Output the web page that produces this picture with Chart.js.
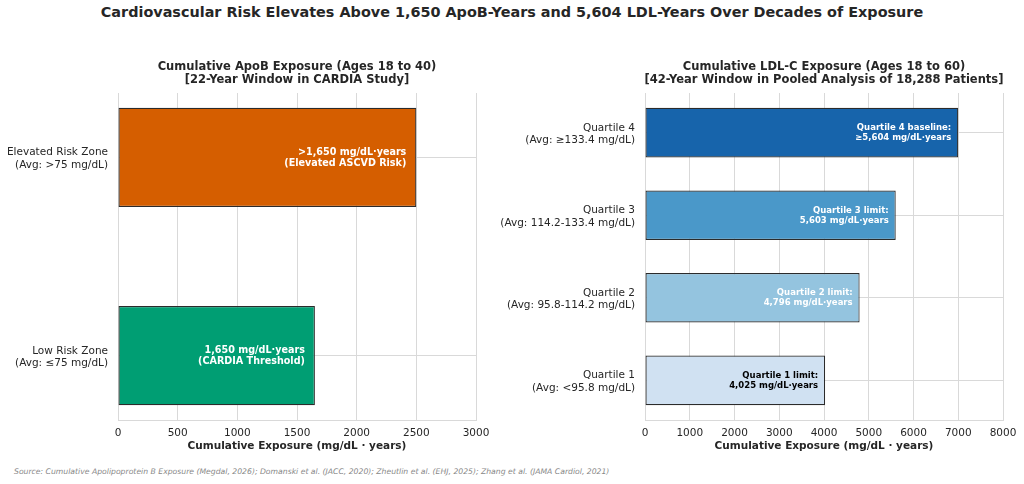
<!DOCTYPE html>
<html lang="en">
<head>
<meta charset="utf-8">
<title>Cumulative ApoB and LDL-C Exposure</title>
<script src="https://cdn.jsdelivr.net/npm/chart.js@4.4.1/dist/chart.umd.min.js"></script>
<style>
  body { margin: 0; background: #fff; width: 1024px; height: 484px; position: relative; overflow: hidden; font-family: 'DejaVu Sans', sans-serif; }
  #title { position: absolute; top: 4px; left: 0; width: 1024px; line-height: 16px; text-align: center; font-weight: bold; font-size: 14.4px; color: #262626; }
  .holder { position: absolute; top: 40px; height: 420px; }
  #left { left: 0; width: 500px; }
  #right { left: 500px; width: 524px; }
  #source { position: absolute; left: 14px; top: 467px; line-height: 9px; font-size: 7.7px; font-style: italic; color: #888; white-space: nowrap; }
</style>
</head>
<body>
<div id="title">Cardiovascular Risk Elevates Above 1,650 ApoB-Years and 5,604 LDL-Years Over Decades of Exposure</div>
<div class="holder" id="left"><canvas id="apob"></canvas></div>
<div class="holder" id="right"><canvas id="ldl"></canvas></div>
<div id="source">Source: Cumulative Apolipoprotein B Exposure (Megdal, 2026); Domanski et al. (JACC, 2020); Zheutlin et al. (EHJ, 2025); Zhang et al. (JAMA Cardiol, 2021)</div>

<script>
// left panel: ApoB (bottom to top)
const apobZones = ['Low Risk Zone', 'Elevated Risk Zone'];
const apobAvg = ['(Avg: \u226475 mg/dL)', '(Avg: >75 mg/dL)'];
const apobValues = [1650, 2500];
const apobBarText = [
  ['1,650 mg/dL\u00b7years', '(CARDIA Threshold)'],
  ['>1,650 mg/dL\u00b7years', '(Elevated ASCVD Risk)']
];
const apobColors = ['#009e73', '#d55e00'];
const apobTextColors = ['#ffffff', '#ffffff'];
const apobTicks = [0, 500, 1000, 1500, 2000, 2500, 3000];
const apobTitle = ['Cumulative ApoB Exposure (Ages 18 to 40)', '[22-Year Window in CARDIA Study]'];

// right panel: LDL-C quartiles (bottom to top)
const ldlQuartiles = ['Quartile 1', 'Quartile 2', 'Quartile 3', 'Quartile 4'];
const ldlAvg = ['(Avg: <95.8 mg/dL)', '(Avg: 95.8-114.2 mg/dL)', '(Avg: 114.2-133.4 mg/dL)', '(Avg: \u2265133.4 mg/dL)'];
const ldlValues = [4025, 4796, 5603, 7000];
const ldlBarText = [
  ['Quartile 1 limit:', '4,025 mg/dL\u00b7years'],
  ['Quartile 2 limit:', '4,796 mg/dL\u00b7years'],
  ['Quartile 3 limit:', '5,603 mg/dL\u00b7years'],
  ['Quartile 4 baseline:', '\u22655,604 mg/dL\u00b7years']
];
const ldlColors = ['#d0e1f2', '#94c4df', '#4a98c9', '#1764ab'];
const ldlTextColors = ['#000000', '#ffffff', '#ffffff', '#ffffff'];
const ldlTicks = [0, 1000, 2000, 3000, 4000, 5000, 6000, 7000, 8000];
const ldlTitle = ['Cumulative LDL-C Exposure (Ages 18 to 60)', '[42-Year Window in Pooled Analysis of 18,288 Patients]'];

const INK = '#262626';
const GRID = '#d9d9d9';

Chart.defaults.font.family = "'DejaVu Sans', sans-serif";

// bar annotations + panel title, drawn over the chart area
function decor(cfg) {
  return {
    id: 'decor',
    afterDatasetsDraw(chart) {
      const ctx = chart.ctx;
      const area = chart.chartArea;
      ctx.save();
      ctx.font = 'bold ' + cfg.textSize + 'px "DejaVu Sans"';
      ctx.textAlign = 'right';
      ctx.textBaseline = 'middle';
      chart.getDatasetMeta(0).data.forEach((bar, i) => {
        const lines = cfg.text[i];
        ctx.fillStyle = cfg.textColors[i];
        lines.forEach((line, k) => {
          ctx.fillText(line, bar.x - cfg.inset, bar.y + 0.5 + (k - (lines.length - 1) / 2) * cfg.textGap);
        });
      });
      ctx.font = 'bold 11.5px "DejaVu Sans"';
      ctx.textAlign = 'center';
      ctx.fillStyle = INK;
      const cx = (area.left + area.right) / 2;
      cfg.title.forEach((line, k) => ctx.fillText(line, cx, 27 + k * 13));
      ctx.restore();
    }
  };
}

function buildChart(id, cfg) {
  return new Chart(document.getElementById(id), {
    type: 'bar',
    data: {
      datasets: [{
        data: cfg.values.map((v, i) => ({ x: v, y: i })),
        backgroundColor: cfg.colors,
        borderColor: '#2b2b2b',
        borderWidth: 1.2,
        borderSkipped: false,
        categoryPercentage: 1,
        barPercentage: cfg.barFrac
      }]
    },
    options: {
      indexAxis: 'y',
      responsive: true,
      maintainAspectRatio: false,
      animation: false,
      layout: { padding: { top: 53, right: cfg.padRight, left: 0, bottom: 0 } },
      scales: {
        x: {
          type: 'linear',
          min: 0,
          max: cfg.xTicks[cfg.xTicks.length - 1],
          afterBuildTicks: s => { s.ticks = cfg.xTicks.map(v => ({ value: v })); },
          afterFit: s => { s.height = 40; },
          grid: { color: GRID, lineWidth: 1, drawTicks: false },
          border: { color: GRID, width: 1 },
          ticks: { padding: 7, color: INK, maxRotation: 0, font: { size: 10.5 }, callback: v => String(v) },
          title: {
            display: true,
            text: 'Cumulative Exposure (mg/dL \u00b7 years)',
            color: INK,
            font: { size: 10.5, weight: 'bold' },
            padding: { top: 0, bottom: 7 }
          }
        },
        y: {
          type: 'linear',
          offset: false,
          min: -cfg.yPad,
          max: cfg.labels.length - 1 + cfg.yPad,
          afterBuildTicks: s => { s.ticks = cfg.labels.map((_, i) => ({ value: i })); },
          afterFit: s => { s.width = cfg.yAxisWidth; },
          grid: { color: GRID, lineWidth: 1, drawTicks: false, offset: false },
          border: { color: GRID, width: 1 },
          ticks: {
            padding: 10,
            labelOffset: 1.5,
            color: INK,
            autoSkip: false,
            font: { size: 10.5, lineHeight: 1.2 },
            callback: v => [cfg.labels[v], cfg.avg[v]]
          }
        }
      },
      plugins: {
        legend: { display: false },
        tooltip: { enabled: false },
        title: { display: false }
      }
    },
    plugins: [decor(cfg)]
  });
}

buildChart('apob', {
  labels: apobZones, avg: apobAvg, values: apobValues, colors: apobColors,
  text: apobBarText, textColors: apobTextColors, xTicks: apobTicks, title: apobTitle,
  barFrac: 0.5, yPad: 0.325, yAxisWidth: 118, padRight: 24, inset: 10, textSize: 9.6, textGap: 11
});

buildChart('ldl', {
  labels: ldlQuartiles, avg: ldlAvg, values: ldlValues, colors: ldlColors,
  text: ldlBarText, textColors: ldlTextColors, xTicks: ldlTicks, title: ldlTitle,
  barFrac: 0.6, yPad: 0.48, yAxisWidth: 145, padRight: 21, inset: 7, textSize: 8.5, textGap: 10
});
</script>
</body>
</html>
